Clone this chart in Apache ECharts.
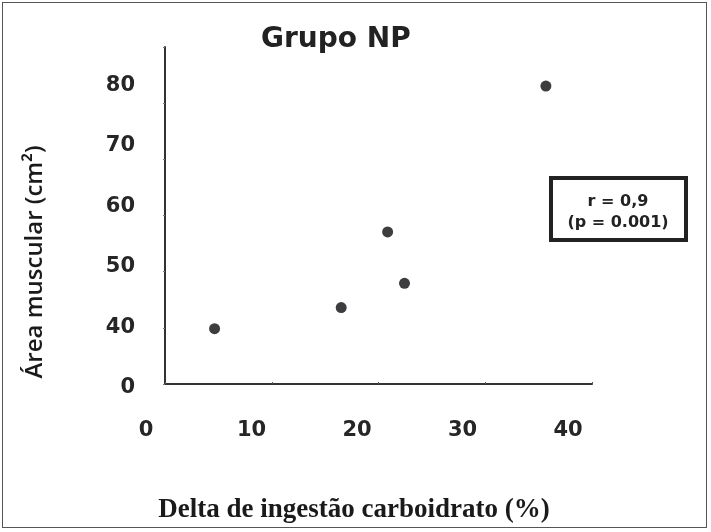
<!DOCTYPE html>
<html>
<head>
<meta charset="utf-8">
<script src="https://cdn.jsdelivr.net/npm/echarts@6/dist/echarts.min.js"></script>
<style>
html,body{margin:0;padding:0;background:#fff;}
#frame{position:absolute;left:2px;top:2px;width:705px;height:526px;border:1px solid #555;box-sizing:border-box;}
#chart{position:absolute;left:0;top:0;width:711px;height:532px;}
</style>
</head>
<body>
<div id="frame"></div>
<div id="chart"></div>
<script>
// Data
const titleText = 'Grupo NP';
const xAxisName = 'Delta de ingestão carboidrato (%)';
const yAxisName = 'Área muscular (cm²)';
const xTickLabels = [0, 10, 20, 30, 40];
const yTickLabels = [0, 40, 50, 60, 70, 80];   // broken axis: "0" sits where 30 would be
const yBreakValue = 30;
const deltaCarb = [6.5, 18.5, 24.5, 22.9, 37.9];
const muscleArea = [39.8, 43.3, 47.3, 55.8, 79.9];
const statLines = ['r = 0,9', '(p = 0.001)'];

const points = deltaCarb.map((x, i) => [x, muscleArea[i]]);
const labelColor = '#262626';
const tickFont = 'DejaVu Sans';

const chart = echarts.init(document.getElementById('chart'), null, {renderer: 'canvas'});
chart.setOption({
  animation: false,
  backgroundColor: 'transparent',
  title: {
    text: titleText,
    left: 261, top: 26,
    padding: 0,
    textStyle: {fontFamily: tickFont, fontWeight: 'bold', fontSize: 28, color: '#222'}
  },
  grid: [
    {left: 146, width: 446, top: 47, height: 341},
    {left: 165, width: 427, top: 47, height: 337}
  ],
  xAxis: [
    {
      gridIndex: 0, type: 'value', min: 0, max: 42.27, interval: 10,
      axisLine: {show: false}, axisTick: {show: false}, splitLine: {show: false},
      axisLabel: {
        margin: 32, fontFamily: tickFont, fontWeight: 'bold', fontSize: 21, color: labelColor,
        formatter: v => xTickLabels.includes(v) ? String(v) : ''
      }
    },
    {
      gridIndex: 1, type: 'value', min: 0, max: 40, interval: 10,
      axisLine: {show: true, lineStyle: {color: '#333', width: 2}},
      axisTick: {show: true, length: 2, inside: true, lineStyle: {color: '#555'}},
      axisLabel: {show: false}, splitLine: {show: false}
    }
  ],
  yAxis: [
    {
      gridIndex: 0, type: 'value', min: yBreakValue, max: 86.36, interval: 10,
      axisLine: {show: false}, axisTick: {show: false}, splitLine: {show: false},
      axisLabel: {
        margin: 11, fontFamily: tickFont, fontWeight: 'bold', fontSize: 21, color: labelColor,
        formatter: v => {
          if (v === yBreakValue) return String(yTickLabels[0]);
          return yTickLabels.slice(1).includes(v) ? String(v) : '';
        }
      }
    },
    {
      gridIndex: 1, type: 'value', min: 30, max: 90, interval: 10,
      axisLine: {show: true, lineStyle: {color: '#333', width: 2}},
      axisTick: {show: true, length: 2, lineStyle: {color: '#777'}},
      axisLabel: {show: false}, splitLine: {show: false}
    }
  ],
  series: [
    {
      type: 'scatter', xAxisIndex: 0, yAxisIndex: 0,
      data: points, symbol: 'circle', symbolSize: 11,
      itemStyle: {color: '#3d3d3f', opacity: 1}
    },
    {type: 'scatter', xAxisIndex: 1, yAxisIndex: 1, data: []}
  ],
  graphic: [
    {
      type: 'text', x: 35, y: 262, rotation: Math.PI / 2,
      style: {text: yAxisName, fontFamily: 'Open Sans', fontWeight: 600, fontSize: 24, fill: '#1a1a1a',
              align: 'center', verticalAlign: 'middle', textAlign: 'center', textVerticalAlign: 'middle'}
    },
    {
      type: 'text', x: 354, y: 510,
      style: {text: xAxisName, fontFamily: 'Liberation Serif', fontWeight: 'bold', fontSize: 27, fill: '#1a1a1a',
              align: 'center', verticalAlign: 'middle', textAlign: 'center', textVerticalAlign: 'middle'}
    },
    {
      type: 'rect', shape: {x: 551, y: 178, width: 135, height: 62},
      style: {fill: '#fff', stroke: '#222', lineWidth: 4}
    },
    {
      type: 'text', x: 618, y: 202,
      style: {text: statLines[0], fontFamily: tickFont, fontWeight: 'bold', fontSize: 16, fill: '#222',
              align: 'center', verticalAlign: 'middle', textAlign: 'center', textVerticalAlign: 'middle'}
    },
    {
      type: 'text', x: 618, y: 223,
      style: {text: statLines[1], fontFamily: tickFont, fontWeight: 'bold', fontSize: 16, fill: '#222',
              align: 'center', verticalAlign: 'middle', textAlign: 'center', textVerticalAlign: 'middle'}
    }
  ]
});
</script>
</body>
</html>
